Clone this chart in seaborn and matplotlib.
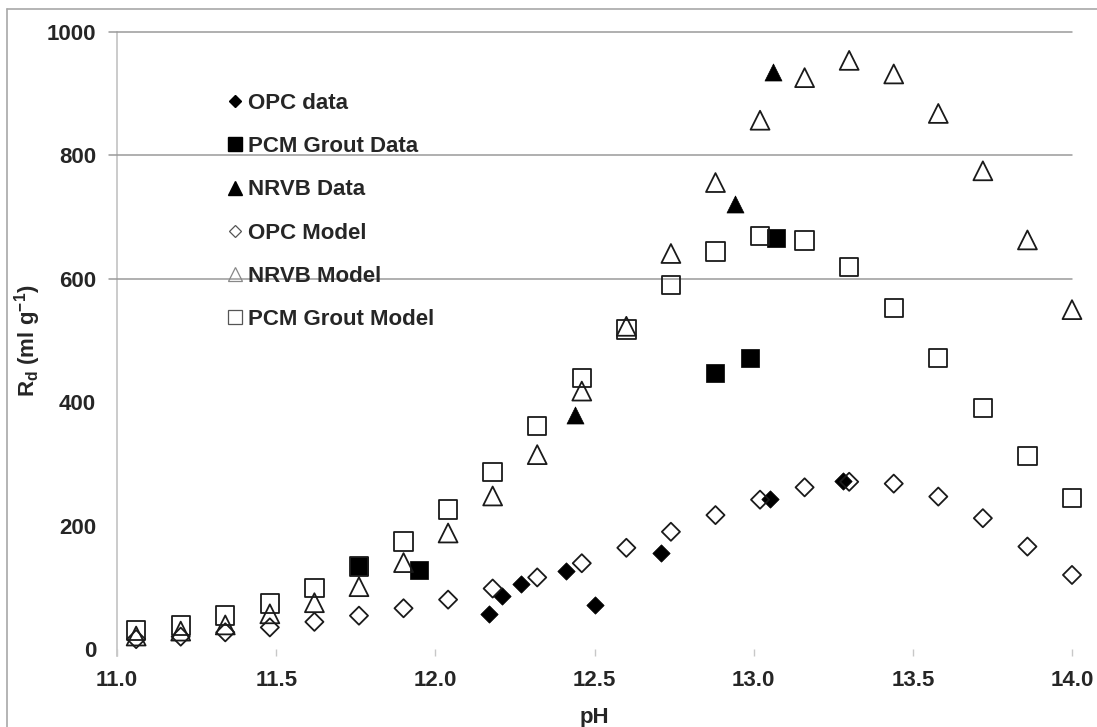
import matplotlib
matplotlib.use("Agg")
import matplotlib.pyplot as plt
from matplotlib.lines import Line2D
import seaborn as sns

# ---------------- data ----------------
ph_model = [11.06, 11.20, 11.34, 11.48, 11.62, 11.76, 11.90, 12.04, 12.18, 12.32, 12.46,
            12.60, 12.74, 12.88, 13.02, 13.16, 13.30, 13.44, 13.58, 13.72, 13.86, 14.00]
opc_model = [16, 20, 27, 35, 44, 54, 66, 80, 98, 116, 139,
             164, 190, 217, 242, 262, 271, 268, 247, 212, 166, 120]
nrvb_model = [21, 29, 39, 57, 75, 101, 140, 188, 248, 315, 418,
              523, 641, 756, 857, 926, 954, 932, 868, 775, 663, 550]
pcm_model = [30, 38, 54, 74, 99, 134, 174, 226, 287, 361, 439,
             518, 590, 644, 669, 662, 619, 553, 472, 391, 313, 245]

opc_data_ph = [12.17, 12.21, 12.27, 12.41, 12.50, 12.71, 13.05, 13.28]
opc_data_rd = [56, 86, 105, 127, 72, 155, 243, 272]
pcm_data_ph = [11.76, 11.95, 12.88, 12.99, 13.07]
pcm_data_rd = [135, 128, 447, 472, 666]
nrvb_data_ph = [12.44, 12.94, 13.06]
nrvb_data_rd = [380, 721, 935]

legend_labels = ["OPC data", "PCM Grout Data", "NRVB Data",
                 "OPC Model", "NRVB Model", "PCM Grout Model"]
x_ticks = [11.0, 11.5, 12.0, 12.5, 13.0, 13.5, 14.0]
y_ticks = [0, 200, 400, 600, 800, 1000]
grid_levels = [600, 800, 1000]

# ---------------- style ----------------
sns.set_theme(style="white")
plt.rcParams["font.family"] = ["Liberation Sans", "DejaVu Sans"]
plt.rcParams["font.weight"] = "bold"
plt.rcParams["mathtext.fontset"] = "custom"
plt.rcParams["mathtext.rm"] = "Liberation Sans:bold"
plt.rcParams["mathtext.it"] = "Liberation Sans:bold"
plt.rcParams["mathtext.bf"] = "Liberation Sans:bold"
plt.rcParams["mathtext.default"] = "rm"

FS = 16
fig = plt.figure(figsize=(10.97, 7.27), dpi=100)
ax = fig.add_axes([0.1067, 0.1073, 0.8705, 0.8487])

# chart area border (left and top edges visible)
fig.add_artist(Line2D([7 / 1097, 7 / 1097], [0, 1 - 9 / 727], transform=fig.transFigure,
                      color="#a8a8a8", lw=1.2))
fig.add_artist(Line2D([7 / 1097, 1.0], [1 - 9 / 727, 1 - 9 / 727], transform=fig.transFigure,
                      color="#a8a8a8", lw=1.2))

for g in grid_levels:
    ax.axhline(g, xmin=-0.008, xmax=1, color="#9a9a9a", lw=1.1, zorder=0.5, clip_on=False)

# filled data series
sns.scatterplot(x=opc_data_ph, y=opc_data_rd, marker="D", s=78, color="black",
                edgecolor="black", linewidth=0.5, ax=ax, zorder=3, clip_on=False)
sns.scatterplot(x=pcm_data_ph, y=pcm_data_rd, marker="s", s=150, color="black",
                edgecolor="black", linewidth=0.5, ax=ax, zorder=3, clip_on=False)
sns.scatterplot(x=nrvb_data_ph, y=nrvb_data_rd, marker="^", s=150, color="black",
                edgecolor="black", linewidth=0.5, ax=ax, zorder=3, clip_on=False)
# hollow model series
sns.scatterplot(x=ph_model, y=opc_model, marker="D", s=85, color="none",
                edgecolor="#1a1a1a", linewidth=1.3, ax=ax, zorder=4, clip_on=False)
sns.scatterplot(x=ph_model, y=nrvb_model, marker="^", s=185, color="none",
                edgecolor="#1a1a1a", linewidth=1.3, ax=ax, zorder=4, clip_on=False)
sns.scatterplot(x=ph_model, y=pcm_model, marker="s", s=175, color="none",
                edgecolor="#1a1a1a", linewidth=1.3, ax=ax, zorder=4, clip_on=False)

ax.set_xlim(11.0, 14.0)
ax.set_ylim(0, 1000)
ax.set_xticks(x_ticks)
ax.set_xticklabels([f"{v:.1f}" for v in x_ticks])
ax.set_yticks(y_ticks)
ax.set_yticklabels([str(v) for v in y_ticks])
ax.tick_params(axis="x", length=5, width=1, color="#c8c8c8", pad=10,
               labelsize=FS, bottom=True)
ax.tick_params(axis="y", length=0, pad=15, labelsize=FS, left=False)
for lab in ax.get_xticklabels() + ax.get_yticklabels():
    lab.set_fontweight("bold")

for side in ["top", "right", "bottom"]:
    ax.spines[side].set_visible(False)
ax.spines["left"].set_color("#bdbdbd")
ax.spines["left"].set_linewidth(1.1)
ax.spines["left"].set_bounds(-12, 1000)
ax.spines["left"].set_zorder(0.4)

ax.set_xlabel("pH", fontsize=FS, fontweight="bold", labelpad=12)
ax.set_ylabel(r"R$_{\mathrm{d}}$ (ml g$^{\mathrm{-1}}$)", fontsize=FS,
              fontweight="bold", labelpad=3)

handles = [
    Line2D([], [], ls="none", marker="D", ms=6.5, mfc="black", mec="black"),
    Line2D([], [], ls="none", marker="s", ms=10, mfc="black", mec="black"),
    Line2D([], [], ls="none", marker="^", ms=10, mfc="black", mec="black"),
    Line2D([], [], ls="none", marker="D", ms=6.5, mfc="none", mec="#555555", mew=0.9),
    Line2D([], [], ls="none", marker="^", ms=10, mfc="none", mec="#888888", mew=0.9),
    Line2D([], [], ls="none", marker="s", ms=10, mfc="none", mec="#555555", mew=0.9),
]
leg = ax.legend(handles, legend_labels, loc="upper left",
                bbox_to_anchor=(227 / 1097, 1 - 93 / 727), bbox_transform=fig.transFigure,
                frameon=False, prop={"weight": "bold", "size": FS},
                handlelength=0.7, handletextpad=0.25, labelspacing=1.0,
                borderpad=0, borderaxespad=0)
leg.set_zorder(1)

fig.savefig("out.png", dpi=100)
